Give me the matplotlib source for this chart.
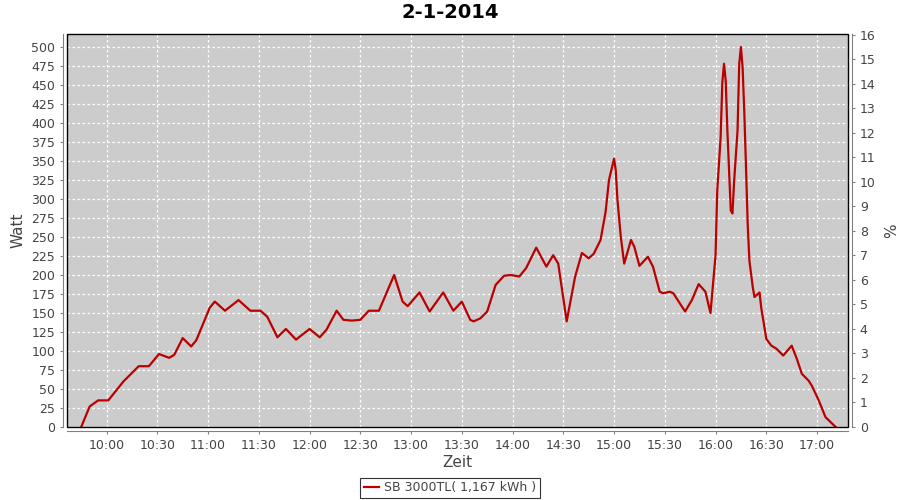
import matplotlib
matplotlib.use("Agg")
import matplotlib.pyplot as plt
from matplotlib.patches import Rectangle

# minutes since midnight, watt
minutes = [585, 590, 595, 601, 610, 619, 625, 631, 637, 640, 645, 650, 653, 661,
           664, 670, 678, 685, 691, 695, 701, 706, 712, 720, 726, 730, 736, 740,
           745, 750, 755, 761, 770, 775, 778, 785, 791, 799, 805, 810, 815, 817,
           821, 825, 830, 835, 839, 844, 848, 854, 860, 864, 867, 872, 877, 881,
           885, 888, 892, 895, 897, 900, 901, 902, 904, 906, 910, 912, 915, 920,
           923, 927, 929, 933, 935, 942, 946, 950, 954, 957, 960, 961, 963, 964,
           965, 966, 967, 968, 969, 970, 971, 973, 974, 975, 976, 977, 978, 979,
           980, 982, 983, 986, 987, 990, 993, 996, 1000, 1005, 1008, 1011, 1015,
           1017, 1021, 1025, 1031]
watt = [0, 27, 35, 35, 60, 80, 80, 96, 91, 95, 117, 106, 114, 157,
        165, 153, 167, 153, 153, 145, 118, 129, 115, 129, 118, 128, 153, 141,
        140, 141, 153, 153, 200, 165, 159, 177, 152, 177, 153, 165, 141, 139,
        143, 152, 187, 199, 200, 198, 209, 236, 211, 226, 215, 139, 198, 229,
        222, 228, 246, 283, 325, 353, 338, 299, 250, 215, 246, 237, 212, 224,
        211, 178, 176, 178, 176, 152, 167, 188, 178, 150, 226, 311, 381, 453,
        478, 456, 390, 337, 285, 281, 324, 390, 478, 500, 473, 414, 342, 267,
        219, 184, 171, 177, 157, 116, 107, 103, 94, 107, 90, 70, 61,
        54, 35, 13, 0]

tick_minutes = [600, 630, 660, 690, 720, 750, 780, 810, 840, 870, 900, 930, 960, 990, 1020]
tick_labels = ["10:00", "10:30", "11:00", "11:30", "12:00", "12:30", "13:00", "13:30",
               "14:00", "14:30", "15:00", "15:30", "16:00", "16:30", "17:00"]
watt_ticks = list(range(0, 501, 25))
pct_ticks = list(range(0, 17))
legend_label = "SB 3000TL( 1,167 kWh )"

fig = plt.figure(figsize=(9, 5), dpi=100)
ax = fig.add_axes([67/900, 1-427/500, (848-67)/900, (427-34)/500])
ax.set_facecolor("#cccccc")

ax.plot(minutes, watt, color="#bb0000", lw=1.6, label=legend_label)

ax.set_xlim(576.6, 1038.3)
ax.set_ylim(0, 517.1)
ax.set_xticks(tick_minutes)
ax.set_xticklabels(tick_labels)
ax.set_yticks(watt_ticks)
ax.grid(True, color="white", linestyle=(0, (2, 2)), linewidth=0.9)

ax2 = ax.twinx()
ax2.set_ylim(0, 16.04)
ax2.set_yticks(pct_ticks)

for a in (ax, ax2):
    for s in a.spines.values():
        s.set_visible(False)
    a.tick_params(colors="#808080", labelcolor="#444444", labelsize=9, length=2, width=0.8)

for side in ("left", "bottom"):
    ax.spines[side].set_visible(True)
    ax.spines[side].set_position(("outward", 3))
    ax.spines[side].set_color("#808080")
ax2.spines["right"].set_visible(True)
ax2.spines["right"].set_position(("outward", 3))
ax2.spines["right"].set_color("#808080")

# dark outline around plot area
ax2.add_patch(Rectangle((0, 0), 1, 1, transform=ax2.transAxes, fill=False,
                        edgecolor="black", lw=1.0, zorder=10, clip_on=False))

ax.set_ylabel("Watt", fontsize=11, color="#444444", labelpad=4)
ax.set_xlabel("Zeit", fontsize=11, color="#444444", labelpad=2)
ax2.set_ylabel("%", fontsize=11, color="#444444", labelpad=6)

fig.text(0.5, 0.974, "2-1-2014", ha="center", va="center", fontsize=14, fontweight="bold")

leg = fig.legend(loc="center", bbox_to_anchor=(0.5, 0.024), fontsize=9, frameon=True,
                 fancybox=False, handlelength=1.2, handletextpad=0.4, borderpad=0.3)
leg.get_frame().set_edgecolor("black")
leg.get_frame().set_linewidth(0.8)
for t in leg.get_texts():
    t.set_color("#444444")

fig.savefig("out.png", dpi=100, facecolor="white")
